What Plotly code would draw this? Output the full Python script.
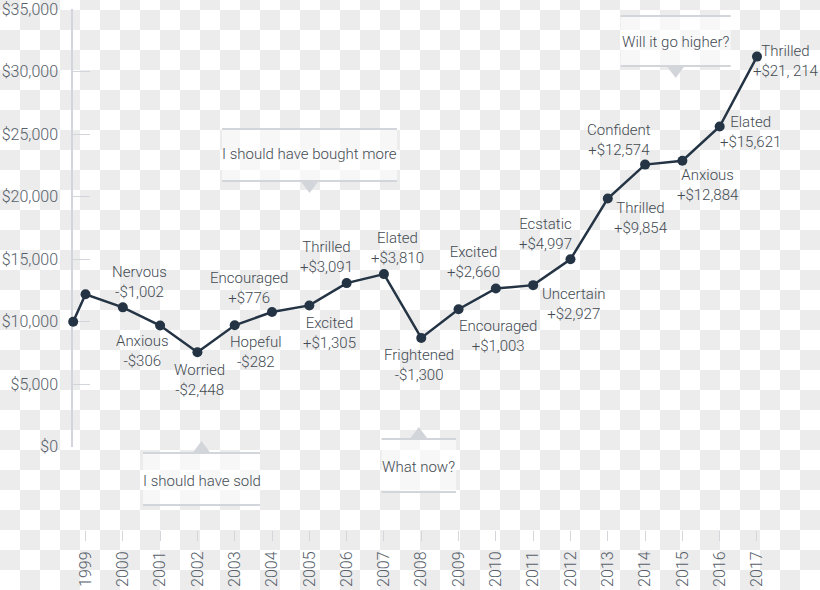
import base64
import plotly.graph_objects as go

# ---------------- data ----------------
start_pos = 1998.67          # initial investment point (sits on the y axis)
start_value = 10000
years = list(range(1999, 2018))
values = [12200, 11150, 9694, 7552, 9718, 10776, 11305, 13091, 13810, 8700,
          11003, 12660, 12927, 14997, 19854, 22574, 22884, 25621, 31214]
moods = [None, "Nervous", "Anxious", "Worried", "Hopeful", "Encouraged", "Excited",
         "Thrilled", "Elated", "Frightened", "Encouraged", "Excited", "Uncertain",
         "Ecstatic", "Thrilled", "Confident", "Anxious", "Elated", "Thrilled"]
changes = [None, "-$1,002", "-$306", "-$2,448", "-$282", "+$776", "+$1,305",
           "+$3,091", "+$3,810", "-$1,300", "+$1,003", "+$2,660", "+$2,927",
           "+$4,997", "+$9,854", "+$12,574", "+$12,884", "+$15,621", "+$21, 214"]
y_ticks = [0, 5000, 10000, 15000, 20000, 25000, 30000, 35000]
y_ticktext = ["$0", "$5,000", "$10,000", "$15,000", "$20,000", "$25,000", "$30,000", "$35,000"]
callout_texts = ["I should have bought more", "I should have sold", "What now?", "Will it go higher?"]

# ---------------- styles ----------------
W, H = 820, 590
FONT = "Roboto"
LINE_C = "#243445"
TEXT_C = "#434b53"
TICK_C = "#56606a"
AXIS_C = "#d2d5d9"
# label offsets (px) relative to the point: (dx, dy screen-down)
label_off = [None, (17, -25), (-18, 25), (2, 28), (21, 27), (-23, -24), (20, 28),
             (-20, -26), (14, -26), (-2, 27), (39, 27), (-22, -26), (41, 19),
             (-25, -25), (33, 19), (-26, -25), (26, 24), (31, 5), (29, 4)]
# callout boxes: (center x px, half width px, top line y, bottom line y, triangle dir, text y)
callout_geo = [(309.5, 87.5, 129, 181, "down", 154),
               (201.5, 58.5, 453, 505, "up", 481),
               (418.8, 37.2, 439, 492, "up", 467),
               (675.7, 55.0, 16, 66, "down", 42)]


def px(x):
    return x / W


def py(y):
    return 1 - y / H


# checkerboard background
svg = ("<svg xmlns='http://www.w3.org/2000/svg' width='820' height='590'>"
       "<defs><pattern id='p' width='40' height='40' patternUnits='userSpaceOnUse' x='0' y='10'>"
       "<rect x='0' y='0' width='40' height='40' fill='#ffffff'/>"
       "<rect x='20' y='0' width='20' height='20' fill='#ececec'/>"
       "<rect x='0' y='20' width='20' height='20' fill='#ececec'/>"
       "</pattern></defs><rect width='820' height='590' fill='url(#p)'/></svg>")
svg_uri = "data:image/svg+xml;base64," + base64.b64encode(svg.encode()).decode()

fig = go.Figure()
fig.add_trace(go.Scatter(
    x=[start_pos] + years, y=[start_value] + values,
    mode="lines+markers",
    line=dict(color=LINE_C, width=2.5),
    marker=dict(color=LINE_C, size=10),
    cliponaxis=False, hoverinfo="skip", showlegend=False))

annotations = []
for yr, v, m, c, off in zip(years, values, moods, changes, label_off):
    if m is None:
        continue
    annotations.append(dict(
        x=yr, y=v, xref="x", yref="y", text=f"{m}<br>{c}", showarrow=False,
        xanchor="center", yanchor="middle", xshift=off[0], yshift=-off[1],
        font=dict(family=FONT, size=15, color=TEXT_C, weight=300), align="center"))

shapes = []
for txt, (cx, hw, ty, by, d, tyt) in zip(callout_texts, callout_geo):
    shapes.append(dict(type="rect", xref="paper", yref="paper",
                       x0=px(cx - hw), x1=px(cx + hw), y0=py(by), y1=py(ty),
                       fillcolor="rgba(255,255,255,0.6)", line=dict(width=0), layer="below"))
    for yy in (ty, by):
        shapes.append(dict(type="line", xref="paper", yref="paper",
                           x0=px(cx - hw), x1=px(cx + hw), y0=py(yy), y1=py(yy),
                           line=dict(color=AXIS_C, width=2)))
    if d == "down":
        tri = [(cx - 9, by), (cx + 9, by), (cx, by + 12)]
    else:
        tri = [(cx - 9, ty), (cx + 9, ty), (cx, ty - 12)]
    path = "M " + " L ".join(f"{px(a):.5f},{py(b):.5f}" for a, b in tri) + " Z"
    shapes.append(dict(type="path", xref="paper", yref="paper", path=path,
                       fillcolor=AXIS_C, line=dict(width=0)))
    annotations.append(dict(x=px(cx), y=py(tyt), xref="paper", yref="paper", text=txt,
                            showarrow=False, xanchor="center", yanchor="middle",
                            font=dict(family=FONT, size=15, color=TEXT_C, weight=300)))

fig.update_layout(
    width=W, height=H, autosize=False,
    margin=dict(l=0, r=0, t=0, b=0, pad=0, autoexpand=False),
    paper_bgcolor="white", plot_bgcolor="rgba(0,0,0,0)",
    font=dict(family=FONT, size=15, color=TEXT_C),
    images=[dict(source=svg_uri, xref="paper", yref="paper", x=0, y=1, sizex=1, sizey=1,
                 sizing="stretch", xanchor="left", yanchor="top", layer="below")],
    shapes=shapes, annotations=annotations,
    xaxis=dict(domain=[px(73), 1], range=[1998.665, 2018.689], automargin=False,
               tickvals=years, ticktext=[str(y) for y in years], tickangle=-90,
               ticks="outside", ticklen=10, tickcolor=AXIS_C, tickwidth=1,
               showline=False, showgrid=False, zeroline=False,
               anchor="free", position=py(530), ticklabelstandoff=4,
               ticklabeloverflow="allow",
               tickfont=dict(family=FONT, size=16, color=TICK_C, weight=300)),
    yaxis=dict(domain=[py(446.7), py(9.3)], range=[0, 35000], automargin=False,
               tickvals=y_ticks, ticktext=y_ticktext, layer="below traces",
               ticks="inside", ticklen=17, tickcolor=AXIS_C, tickwidth=1,
               showline=True, linecolor=AXIS_C, linewidth=1.5,
               showgrid=False, zeroline=False, ticklabelstandoff=10,
               ticklabeloverflow="allow",
               tickfont=dict(family=FONT, size=16, color=TICK_C, weight=300)),
)

fig.write_html("out.html")
